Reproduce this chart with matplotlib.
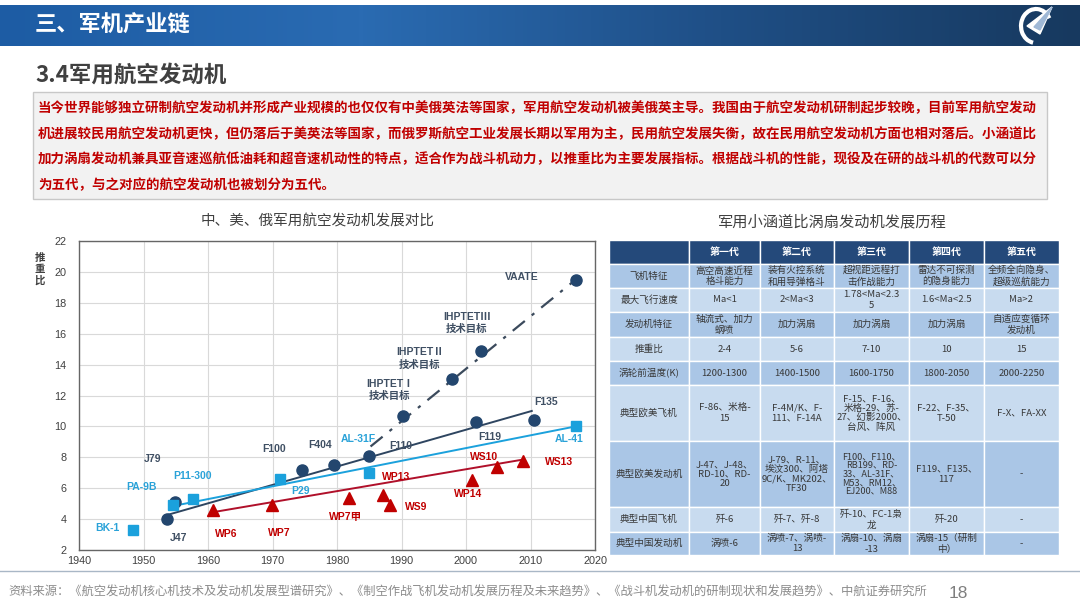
import numpy as np
import matplotlib
matplotlib.use('Agg')
import matplotlib.pyplot as plt
from matplotlib.patches import Rectangle, Arc, Polygon
from matplotlib.colors import LinearSegmentedColormap

plt.rcParams['font.family'] = ['Liberation Sans', 'Noto Sans CJK SC', 'DejaVu Sans']
CJK = ['Noto Sans CJK SC', 'DejaVu Sans']

# ---- chart data (year, thrust-to-weight ratio) ----
us_names = ['J47', 'J79', 'F100', 'F404', 'F110', 'F119', 'F135']
us_years = [1953.6, 1954.9, 1974.5, 1979.5, 1985.0, 2001.5, 2010.6]
us_twr = [4.0, 5.1, 7.2, 7.5, 8.1, 10.3, 10.4]

ih_names = ['IHPTETⅠ\n技术目标', 'IHPTETⅡ\n技术目标', 'IHPTETⅢ\n技术目标', 'VAATE']
ih_years = [1990.2, 1997.8, 2002.3, 2017.0]
ih_twr = [10.65, 13.1, 14.9, 19.5]

ru_names = ['BK-1', 'PA-9B', 'P11-300', 'P29', 'AL-31F', 'AL-41']
ru_years = [1948.4, 1954.6, 1957.6, 1971.2, 1984.9, 2017.0]
ru_twr = [3.3, 4.9, 5.3, 6.6, 7.0, 10.0]

cn_names = ['WP6', 'WP7', 'WP7甲', 'WP13', 'WS9', 'WP14', 'WS10', 'WS13']
cn_years = [1960.8, 1969.9, 1981.8, 1987.1, 1988.2, 2001.0, 2004.8, 2008.8]
cn_twr = [4.6, 4.9, 5.35, 5.57, 4.9, 6.5, 7.4, 7.75]

# trend lines
us_trend_years = [1953.7, 2010.2]
us_trend_twr = [4.27, 11.0]
ru_trend_years = [1954.0, 2017.0]
ru_trend_twr = [4.8, 10.0]
cn_trend_years = [1960.8, 2008.8]
cn_trend_twr = [4.45, 7.85]
ih_trend_years = [1985.2, 2017.0]
ih_trend_twr = [8.7, 19.5]

x_ticks = [1940, 1950, 1960, 1970, 1980, 1990, 2000, 2010, 2020]
y_ticks = [2, 4, 6, 8, 10, 12, 14, 16, 18, 20, 22]

# ---- table data ----
table_header = ['', '第一代', '第二代', '第三代', '第四代', '第五代']
row_labels = ['飞机特征', '最大飞行速度', '发动机特征', '推重比', '涡轮前温度(K)',
              '典型欧美飞机', '典型欧美发动机', '典型中国飞机', '典型中国发动机']
gen1 = ['高空高速近程\n格斗能力', 'Ma<1', '轴流式、加力\n蜗喷', '2-4', '1200-1300',
        'F-86、米格-\n15', 'J-47、J-48、\nRD-10、RD-\n20', '歼-6', '涡喷-6']
gen2 = ['装有火控系统\n和用导弹格斗', '2<Ma<3', '加力涡扇', '5-6', '1400-1500',
        'F-4M/K、F-\n111、F-14A', 'J-79、R-11、\n埃汶300、阿塔\n9C/K、MK202、\nTF30',
        '歼-7、歼-8', '涡喷-7、涡喷-\n13']
gen3 = ['超视距远程打\n击作战能力', '1.78<Ma<2.3\n5', '加力涡扇', '7-10', '1600-1750',
        'F-15、F-16、\n米格-29、苏-\n27、幻影2000、\n台风、阵风',
        'F100、F110、\nRB199、RD-\n33、AL-31F、\nM53、RM12、\nEJ200、M88',
        '歼-10、FC-1枭\n龙', '涡扇-10、涡扇\n-13']
gen4 = ['雷达不可探测\n的隐身能力', '1.6<Ma<2.5', '加力涡扇', '10', '1800-2050',
        'F-22、F-35、\nT-50', 'F119、F135、\n117', '歼-20', '涡扇-15（研制\n中）']
gen5 = ['全频全向隐身、\n超级巡航能力', 'Ma>2', '自适应变循环\n发动机', '15', '2000-2250',
        'F-X、FA-XX', '-', '-', '-']

intro_lines = [
    '当今世界能够独立研制航空发动机并形成产业规模的也仅仅有中美俄英法等国家，军用航空发动机被美俄英主导。我国由于航空发动机研制起步较晚，目前军用航空发动',
    '机进展较民用航空发动机更快，但仍落后于美英法等国家，而俄罗斯航空工业发展长期以军用为主，民用航空发展失衡，故在民用航空发动机方面也相对落后。小涵道比',
    '加力涡扇发动机兼具亚音速巡航低油耗和超音速机动性的特点，适合作为战斗机动力，以推重比为主要发展指标。根据战斗机的性能，现役及在研的战斗机的代数可以分',
    '为五代，与之对应的航空发动机也被划分为五代。',
]
source_text = ('资料来源：《航空发动机核心机技术及发动机发展型谱研究》、《制空作战飞机发动机发展历程及未来趋势》、'
               '《战斗机发动机的研制现状和发展趋势》、中航证券研究所')

fig = plt.figure(figsize=(10.8, 6.08), dpi=100)
bg = fig.add_axes([0, 0, 1, 1])
bg.axis('off')

# header bar
cmap = LinearSegmentedColormap.from_list('hdr', ['#1d5ca4', '#2a6bb2', '#1f4f86', '#17395f'])
bg.imshow(np.linspace(0, 1, 256)[None, :], extent=[0, 1080, 46, 5], cmap=cmap, aspect='auto')
bg.text(35, 25, '三、军机产业链', color='white', fontsize=16, fontweight='bold',
        family=CJK, va='center', ha='left')
# logo
bg.add_patch(Arc((1036, 26), 30, 34, theta1=100, theta2=330, color='white', lw=3))
bg.add_patch(Polygon([[1027, 26], [1052, 7], [1040, 34]], closed=True, color='white'))
bg.add_patch(Polygon([[1034, 27], [1052, 7], [1040, 30]], closed=True, color='#9fb8d6'))

bg.text(35, 75, '3.4军用航空发动机', color='#404040', fontsize=16.2, fontweight='bold',
        family=CJK, va='center', ha='left')

# intro box
bg.add_patch(Rectangle((33, 92), 1014, 107, facecolor='#f2f2f2', edgecolor='#c8c8c8', lw=1))
for i, line in enumerate(intro_lines):
    bg.text(38, 108 + i * 25.7, line, color='#c00000', fontsize=9.72, fontweight='bold',
            family=CJK, va='center', ha='left')

# titles
bg.text(318, 222, '中、美、俄军用航空发动机发展对比', color='#404040', fontsize=10.5,
        family=CJK, ha='center', va='center')
bg.text(832, 222, '军用小涵道比涡扇发动机发展历程', color='#404040', fontsize=11,
        family=CJK, ha='center', va='center')
bg.text(40, 269, '推\n重\n比', color='#404040', fontsize=7.5, fontweight='bold',
        family=CJK, ha='center', va='center', linespacing=1.15)

# table
col_edges = [609, 689, 760, 834, 909, 984, 1059]
row_edges = [240, 264, 288, 312, 337, 361, 385, 441, 507, 532, 555]
columns = [row_labels, gen1, gen2, gen3, gen4, gen5]
for c in range(6):
    x0, x1 = col_edges[c], col_edges[c + 1]
    bg.add_patch(Rectangle((x0, row_edges[0]), x1 - x0, row_edges[1] - row_edges[0],
                           facecolor='#24497a', edgecolor='white', lw=1))
    bg.text((x0 + x1) / 2, (row_edges[0] + row_edges[1]) / 2, table_header[c], color='white',
            fontsize=7.2, fontweight='bold', family=CJK, ha='center', va='center')
    for r in range(9):
        y0, y1 = row_edges[r + 1], row_edges[r + 2]
        fc = '#aac6e6' if r % 2 == 0 else '#c8dbef'
        bg.add_patch(Rectangle((x0, y0), x1 - x0, y1 - y0, facecolor=fc, edgecolor='white', lw=1))
        txt = columns[c][r]
        n = txt.count('\n')
        ls = 0.95 if n >= 4 else (1.05 if n >= 2 else 1.25)
        fs = 6.6 if n >= 4 else 6.9
        bg.text((x0 + x1) / 2, (y0 + y1) / 2, txt, color='#383838', fontsize=fs,
                family=CJK, ha='center', va='center', linespacing=ls)

# footer
bg.plot([0, 1080], [571, 571], color='#a9b7c6', lw=1)
bg.text(8, 592, source_text, color='#8c8c8c', fontsize=8.85, family=CJK, ha='left', va='center')
bg.text(958, 593, '18', color='#7f7f7f', fontsize=12.5, ha='center', va='center')

bg.set_xlim(0, 1080)
bg.set_ylim(608, 0)

# ---- chart ----
ax = fig.add_axes([79 / 1080, 1 - 550 / 608, (595 - 79) / 1080, (550 - 241) / 608])
ax.set_xlim(1940, 2020)
ax.set_ylim(2, 22)
ax.set_xticks(x_ticks)
ax.set_yticks(y_ticks)
ax.grid(True, color='#d9d9d9', lw=0.8)
ax.set_axisbelow(True)
ax.tick_params(length=0, labelsize=7.8, labelcolor='#404040')
ax.tick_params(axis='y', pad=9)
ax.tick_params(axis='x', pad=4)
for s in ax.spines.values():
    s.set_color('#666666')
    s.set_linewidth(1)

navy = '#23466e'
lblue = '#1ba1dc'
red = '#c00000'

ax.plot(us_trend_years, us_trend_twr, color='#2e4560', lw=1.4, zorder=3)
ax.plot(ru_trend_years, ru_trend_twr, color=lblue, lw=1.4, zorder=3)
ax.plot(cn_trend_years, cn_trend_twr, color='#b0102a', lw=1.4, zorder=3)
ax.plot(ih_trend_years, ih_trend_twr, color='#3b4a5c', lw=1.6, ls=(0, (7, 4, 1.5, 4)), zorder=3)

ax.plot(us_years, us_twr, 'o', color=navy, ms=8, ls='none', zorder=4)
ax.plot(ih_years, ih_twr, 'o', color=navy, ms=8, ls='none', zorder=4)
ax.plot(ru_years, ru_twr, 's', color=lblue, ms=7, ls='none', zorder=4)
ax.plot(cn_years, cn_twr, '^', color=red, ms=8, ls='none', zorder=4)

us_off = [(12, -19), (-23, 43), (-27, 21), (-14, 20), (31, 10), (14, -15), (12, 18)]
ih_off = [(-13, 26), (-32, 20), (-14, 28), (-54, 3)]
ru_off = [(-26, 2), (-32, 18), (0, 23), (20, -12), (-10, 34), (-7, -13)]
cn_off = [(13, -24), (7, -28), (-3, -19), (13, 18), (26, -2), (-4, -14), (-13, 10), (36, -1)]

def labels(names, xs, ys, offs, color):
    for n, x, y, o in zip(names, xs, ys, offs):
        ax.annotate(n, (x, y), xytext=o, textcoords='offset pixels', color=color,
                    fontsize=7.5, fontweight='bold', ha='center', va='center',
                    linespacing=1.25, zorder=5)

labels(us_names, us_years, us_twr, us_off, '#3f4f63')
labels(ih_names, ih_years, ih_twr, ih_off, '#3f4f63')
labels(ru_names, ru_years, ru_twr, ru_off, '#2aa2d8')
labels(cn_names, cn_years, cn_twr, cn_off, red)

fig.savefig('out.png', dpi=100)
